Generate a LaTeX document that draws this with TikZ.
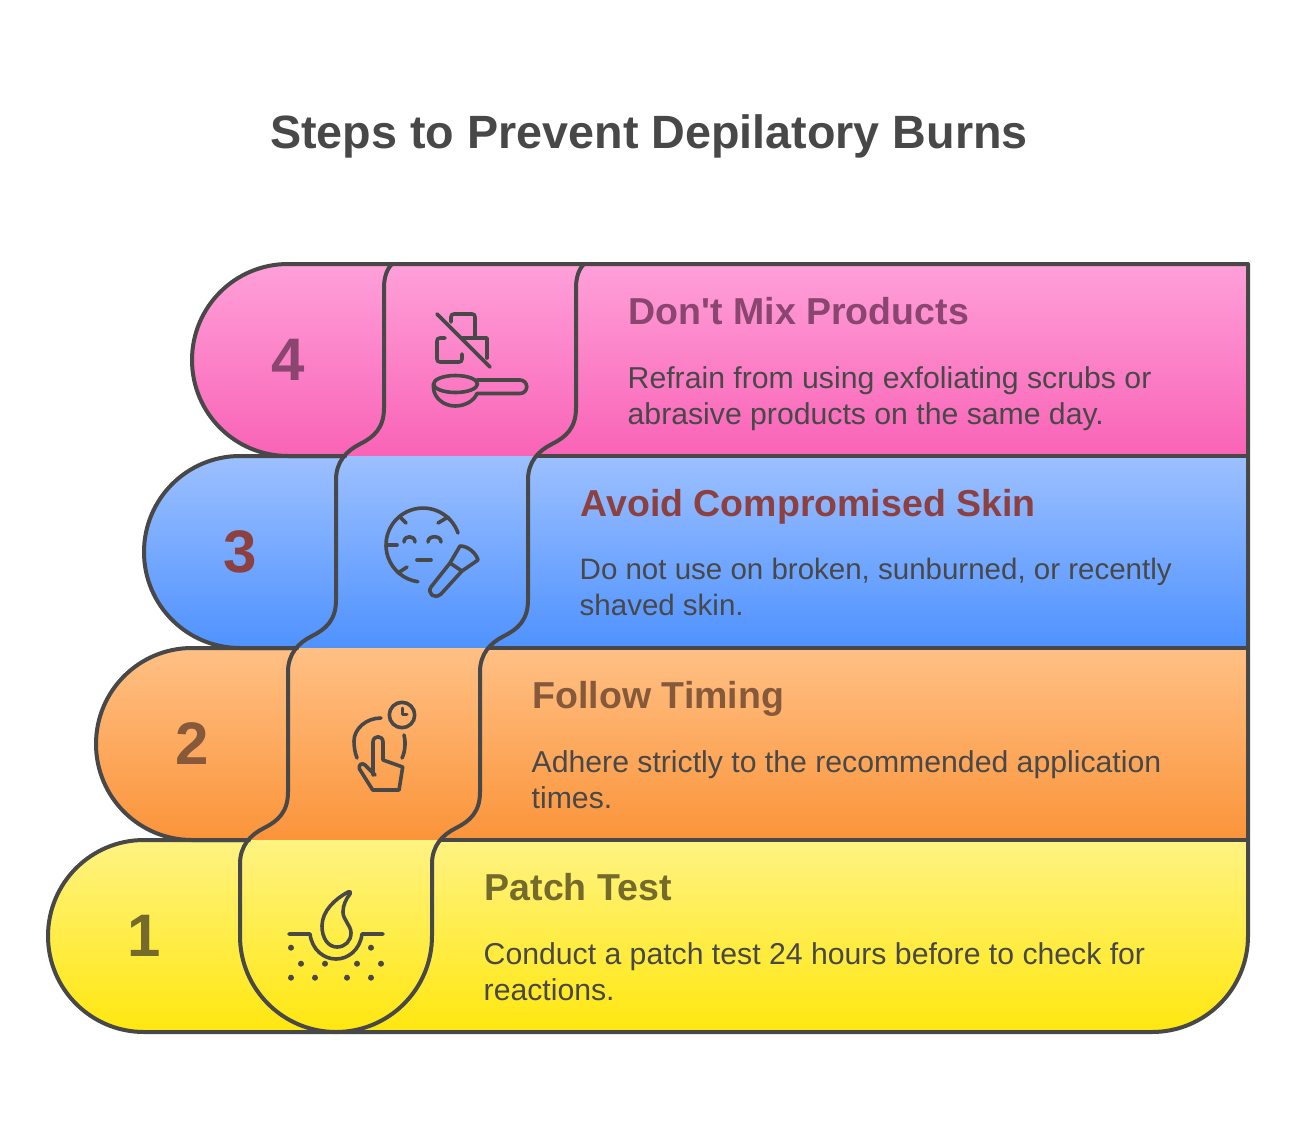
\documentclass[tikz,border=0pt]{standalone}
\usepackage{fontspec}
\setmainfont{Liberation Sans}
\definecolor{inkgray}{HTML}{484848}
\definecolor{pinktop}{HTML}{FFA0D9}
\definecolor{pinkbot}{HTML}{F963B6}
\definecolor{bluetop}{HTML}{9CC0FF}
\definecolor{bluebot}{HTML}{4F92FF}
\definecolor{orangetop}{HTML}{FFC085}
\definecolor{orangebot}{HTML}{FB943A}
\definecolor{yellowtop}{HTML}{FFF382}
\definecolor{yellowbot}{HTML}{FFE70F}
\definecolor{pinkhead}{HTML}{8A4570}
\definecolor{bluehead}{HTML}{8C4040}
\definecolor{orangehead}{HTML}{85593A}
\definecolor{yellowhead}{HTML}{736A2B}

\begin{document}
\begin{tikzpicture}[x=1pt,y=-1pt]
      \tikzset{
        outline/.style={draw=inkgray, line width=4pt, line cap=round, line join=round},
        icon/.style={draw=inkgray, line width=3.6pt, line cap=round, line join=round},
        numlabel/.style={font=\fontsize{60}{60}\selectfont\bfseries, anchor=base, inner sep=0pt},
        headlabel/.style={font=\fontsize{37.5}{44}\selectfont\bfseries, anchor=base west, inner sep=0pt},
        textlabel/.style={font=\fontsize{30.2}{36}\selectfont, text=inkgray, anchor=north west, inner sep=0pt, align=left},
      }
      \useasboundingbox (0,0) rectangle (1296,1128);

      \node[font=\fontsize{46.7}{58}\selectfont\bfseries, text=inkgray, anchor=base, inner sep=0pt] (title) at (649,148) {Steps to Prevent Depilatory Burns};

      % band fills
      \fill[top color=pinktop, bottom color=pinkbot] (288,264) -- (1248,264) -- (1248,456) -- (288,456) arc[start angle=90, end angle=270, radius=96] -- cycle;
      \fill[top color=bluetop, bottom color=bluebot] (240,456) -- (1248,456) -- (1248,648) -- (240,648) arc[start angle=90, end angle=270, radius=96] -- cycle;
      \fill[top color=orangetop, bottom color=orangebot] (192,648) -- (1248,648) -- (1248,840) -- (192,840) arc[start angle=90, end angle=270, radius=96] -- cycle;
      \fill[top color=yellowtop, bottom color=yellowbot] (144,840) -- (1248,840) -- (1248,936) arc[start angle=0, end angle=90, radius=96] -- (144,1032) arc[start angle=90, end angle=270, radius=96] -- cycle;

      % outer outline
      \draw[outline] (345,456) -- (288,456) arc[start angle=90, end angle=270, radius=96] -- (1248,264) -- (1248,936) arc[start angle=0, end angle=90, radius=96] -- (144,1032) arc[start angle=90, end angle=270, radius=96] -- (249,840);
      \draw[outline] (297,648) -- (240,648) arc[start angle=90, end angle=270, radius=96] -- (345,456);
      \draw[outline] (249,840) -- (192,840) arc[start angle=90, end angle=270, radius=96] -- (297,648);
      \draw[outline] (537,456) -- (1248,456);
      \draw[outline] (489,648) -- (1248,648);
      \draw[outline] (441,840) -- (1248,840);

      % the winding column
      \draw[outline] (392,264) .. controls (387,269) and (384,277) .. (384,288) -- (384,408)
        .. controls (384,428) and (374,437) .. (360,444) .. controls (346,451) and (336,462) .. (336,480) -- (336,600)
        .. controls (336,620) and (326,629) .. (312,636) .. controls (298,643) and (288,654) .. (288,672) -- (288,792)
        .. controls (288,812) and (278,821) .. (264,828) .. controls (250,835) and (240,846) .. (240,864) -- (240,936)
        arc[start angle=180, end angle=0, radius=96] -- (432,864)
        .. controls (432,846) and (442,835) .. (456,828) .. controls (470,821) and (480,812) .. (480,792) -- (480,672)
        .. controls (480,654) and (490,643) .. (504,636) .. controls (518,629) and (528,620) .. (528,600) -- (528,480)
        .. controls (528,462) and (538,451) .. (552,444) .. controls (566,437) and (576,428) .. (576,408) -- (576,288)
        .. controls (576,277) and (579,269) .. (584,264);

      % numbers
      \node[numlabel, text=pinkhead] (num4) at (288.5,380) {4};
      \node[numlabel, text=bluehead] (num3) at (240,572) {3};
      \node[numlabel, text=orangehead] (num2) at (192,764) {2};
      \node[numlabel, text=yellowhead] (num1) at (144,956) {1};

      % headings and descriptions
      \node[headlabel, text=pinkhead] (head4) at (628.5,324) {Don\textquotesingle t Mix Products};
      \node[textlabel] (text4) at (627.5,366) {Refrain from using exfoliating scrubs or\\abrasive products on the same day.};
      \node[headlabel, text=bluehead] (head3) at (580.5,516) {Avoid Compromised Skin};
      \node[textlabel, font=\fontsize{29.5}{36}\selectfont] (text3) at (579.5,558) {Do not use on broken, sunburned, or recently\\shaved skin.};
      \node[headlabel, text=orangehead] (head2) at (532.5,708) {Follow Timing};
      \node[textlabel] (text2) at (531.5,750) {Adhere strictly to the recommended application\\times.};
      \node[headlabel, text=yellowhead] (head1) at (484.5,900) {Patch Test};
      \node[textlabel] (text1) at (483.5,942) {Conduct a patch test 24 hours before to check for\\reactions.};

      % icon 4
      \draw[icon] (451,322) -- (451,317) .. controls (451,315) and (452,314) .. (454,314) -- (472,314) .. controls (474,314) and (475,315) .. (475,317) -- (475,338);
      \draw[icon] (463,338) -- (487,338) -- (487,358);
      \draw[icon] (445,338) -- (440,338) .. controls (438,338) and (437,339) .. (437,341) -- (437,359) .. controls (437,361) and (438,362) .. (440,362) -- (459,362) .. controls (461,362) and (462,361) .. (462,359) -- (462,354);
      \draw[icon] (437,314) -- (490,367);
      \draw[icon] (455.5,384) ellipse[x radius=22, y radius=8.5];
      \draw[icon] (433.5,384) -- (433.5,388) .. controls (434,398) and (444,406) .. (455,406) .. controls (465,406) and (474,401) .. (477,393.5) -- (520,393.5) arc[start angle=90, end angle=-90, radius=6.75] -- (477,380);

      % icon 3
      \draw[icon] (458,533) arc[start angle=-19, end angle=-262, radius=37];
      \draw[icon] (400,517) -- (406,523);
      \draw[icon] (448,517) -- (438,523);
      \draw[icon] (387,545) -- (397,545);
      \draw[icon] (398,573) -- (407,567);
      \draw[icon] (404,542) .. controls (404,535) and (415,535) .. (415,542);
      \draw[icon] (428,542) .. controls (428,535) and (441,535) .. (441,542);
      \draw[icon] (417,560) -- (431,560);
      \draw[icon] (450,563) -- (431,587) .. controls (427,593) and (434,600) .. (441,594) -- (462,571) -- cycle;
      \draw[icon] (450,563) -- (460,546) .. controls (468,546) and (476,553) .. (478,560) -- (462,571);

      % icon 2
      \draw[icon] (402,715) circle[radius=12.7];
      \draw[icon, line width=3pt] (402,708) -- (402,714) -- (407,714);
      \draw[icon] (381,718) .. controls (366,718) and (354,729) .. (354,741) .. controls (354,747) and (355,753) .. (357,758);
      \draw[icon] (404,735) .. controls (406,743) and (405,752) .. (402,758);
      \draw[icon] (373,775) -- (373,742) .. controls (373,735) and (383,735) .. (383,742) -- (383,760) -- (402.7,767) -- (399,790) -- (372.7,790) -- (359.5,769) .. controls (358,765) and (362,762) .. (365,765) -- (375,775);

      % icon 1
      \draw[icon] (289,934) -- (310,934) .. controls (312,950) and (324,959) .. (336,959) .. controls (348,959) and (360,950) .. (362,934) -- (383,934);
      \draw[icon] (348,892) .. controls (335,899) and (322,911) .. (322,926) .. controls (322,938) and (328,947) .. (337,947) .. controls (345,947) and (351,941) .. (351,933) .. controls (351,925) and (343,920) .. (343,912) .. controls (343,905) and (346,899) .. (350,894) .. controls (351,892) and (350,891) .. (348,892) -- cycle;
      \foreach \dotx/\doty in {291/947.7, 371/947.7, 301/963.7, 325/963.7, 357/963.7, 381/963.7, 291/977.7, 315/977.7, 347/977.7, 371/977.7}
        \fill[inkgray] (\dotx,\doty) circle[radius=3];
    \end{tikzpicture}
\end{document}
